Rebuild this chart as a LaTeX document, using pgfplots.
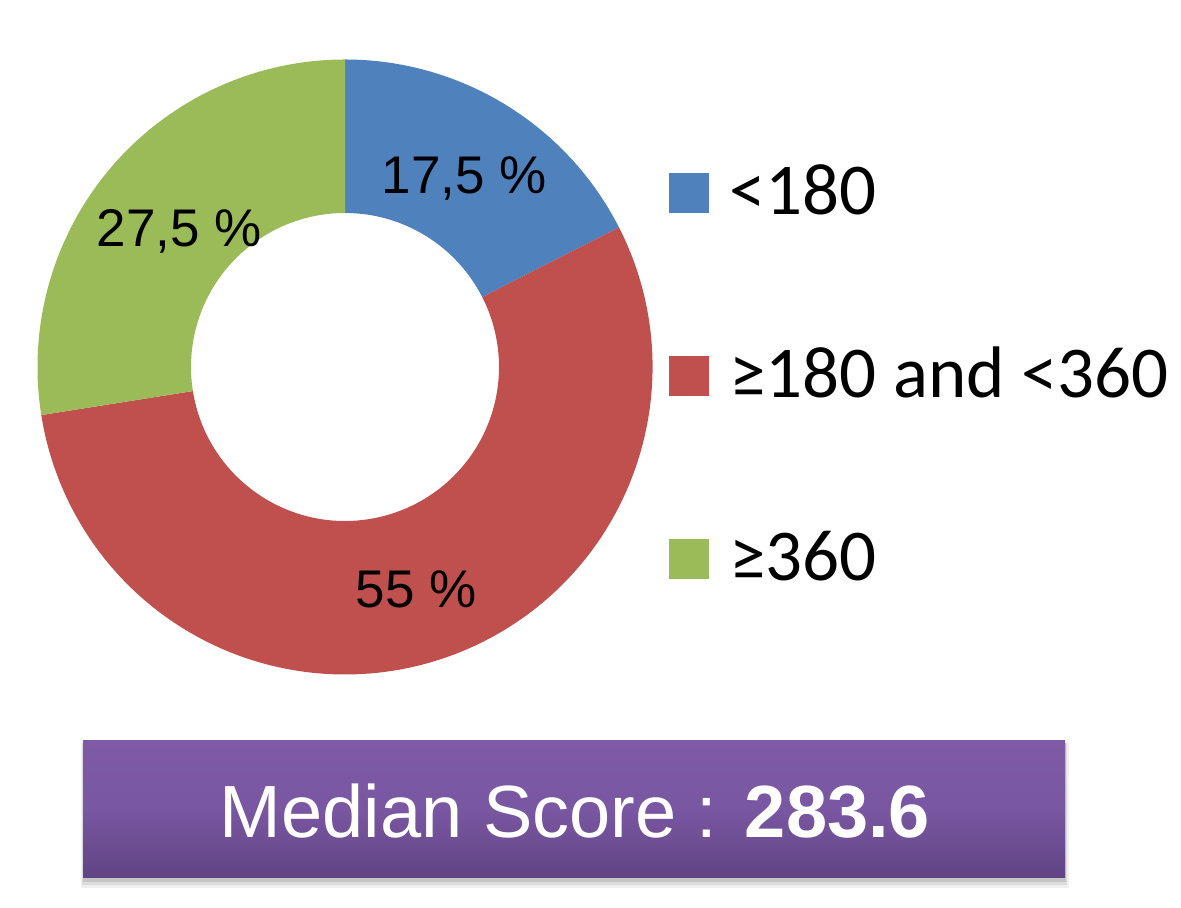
\documentclass[border=0pt]{standalone}
\usepackage{pgfplots}
\pgfplotsset{compat=1.18}
\usepackage{pgfplotstable}
\usepackage{fontspec}
\setmainfont{Liberation Sans}
\newfontfamily\calibri{Carlito}
\definecolor{cblue}{HTML}{4F81BD}
\definecolor{cred}{HTML}{C0504D}
\definecolor{cgreen}{HTML}{9BBB59}
\definecolor{ptop}{HTML}{7E5AA7}
\definecolor{pbot}{HTML}{604484}

\pgfplotstableread[col sep=semicolon]{
label;value
<180;17.5
≥180 and <360;55
≥360;27.5
}\donutdata

\pgfplotstablegetelem{0}{value}\of\donutdata \edef\vA{\pgfplotsretval}
\pgfplotstablegetelem{1}{value}\of\donutdata \edef\vB{\pgfplotsretval}
\pgfplotstablegetelem{2}{value}\of\donutdata \edef\vC{\pgfplotsretval}
\pgfmathsetmacro\sA{90}
\pgfmathsetmacro\eA{\sA-3.6*\vA}
\pgfmathsetmacro\eB{\eA-3.6*\vB}
\pgfmathsetmacro\eC{\eB-3.6*\vC}
\pgfmathsetmacro\mA{(\sA+\eA)/2}
\pgfmathsetmacro\mB{(\eA+\eB)/2}
\pgfmathsetmacro\mC{(\eB+\eC)/2}

\newcommand\donutslice[3]{%
  \fill[#1] ([shift={(#2:153.75pt)}]axis cs:345,541)
    arc[start angle=#2,end angle=#3,radius=153.75pt]
    -- ([shift={(#3:77pt)}]axis cs:345,541)
    arc[start angle=#3,end angle=#2,radius=77pt] -- cycle;}

\begin{document}%
\begin{tikzpicture}
\begin{axis}[
  name=ax,
  x=0.5pt, y=0.5pt,
  xmin=0, xmax=1181, ymin=0, ymax=908,
  hide axis, clip=false,
  /pgf/number format/assume math mode=true,
  legend image code/.code={\fill[#1,draw=none] (0pt,-11pt) rectangle (20pt,9pt);},
  legend cell align=left,
  legend style={draw=none, fill=none, inner sep=0pt,
    at={(axis description cs:0.5665,0.815)}, anchor=north west,
    font=\calibri\fontsize{36.5}{40}\selectfont,
    nodes={inner sep=0pt, text height=23pt, text depth=0pt},
    row sep=68.5pt, column sep=10pt},
]
\addlegendimage{fill=cblue}
\addlegendentry{<180}
\addlegendimage{fill=cred}
\addlegendentry{≥180 and <360}
\addlegendimage{fill=cgreen}
\addlegendentry{≥360}

\donutslice{cblue}{\sA}{\eA}
\donutslice{cred}{\eA}{\eB}
\donutslice{cgreen}{\eB}{\eC}

\begin{scope}[font=\fontsize{26.5}{30}\selectfont]
\node[yshift=-3pt] at ([shift={(\mA:114pt)}]axis cs:345,541) {\pgfmathprintnumber[use comma,assume math mode=true]{\vA} \%};
\node[yshift=-2pt] at ([shift={(\mB:115pt)}]axis cs:345,541) {\pgfmathprintnumber[use comma,assume math mode=true]{\vB} \%};
\node[yshift=-3pt] at ([shift={(\mC:109pt)}]axis cs:345,541) {\pgfmathprintnumber[use comma,assume math mode=true]{\vC} \%};
\end{scope}

% summary box
\fill[black,opacity=0.06] (axis cs:81,20) rectangle (axis cs:1069,165);
\fill[black,opacity=0.08] (axis cs:82,23) rectangle (axis cs:1067,165);
\fill[black,opacity=0.10] (axis cs:83,26) rectangle (axis cs:1066,165);
\shade[top color=ptop, bottom color=pbot, middle color=ptop!85!pbot] (axis cs:83,30) rectangle (axis cs:1065,167);
\node[text=white, font=\fontsize{37}{40}\selectfont] at (axis cs:575,97) {Median Score : \textbf{283.6}};
\end{axis}
\pgfresetboundingbox
\useasboundingbox (ax.south west) rectangle (ax.north east);
\end{tikzpicture}%
\end{document}
